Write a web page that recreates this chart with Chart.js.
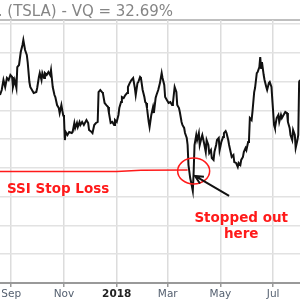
<!DOCTYPE html>
<html>
<head>
<meta charset="utf-8">
<script src="https://cdn.jsdelivr.net/npm/chart.js@4.4.1/dist/chart.umd.min.js"></script>
<style>
  html, body { margin: 0; padding: 0; background: #fff; }
  #wrap { width: 300px; height: 300px; }
</style>
</head>
<body>
<div id="wrap"><canvas id="chart" width="300" height="300"></canvas></div>
<script>
// x values are days counted from 1 Sep 2017
var tickDays = [0, 61, 122, 181, 242, 303];
var tickLabels = ["Sep", "Nov", "2018", "Mar", "May", "Jul"];
var priceTicks = [175, 200, 225, 250, 275, 300, 325, 350, 375, 400];

// TSLA close
var priceDays = [
    -13, -11, -9, -7, -5, -3, -1, 1, 2, 4, 6, 7, 9, 11, 13, 14, 16, 18, 19, 21,
    22, 24, 26, 29, 30, 32, 33, 35, 36, 38, 39, 41, 43, 45, 46, 48, 50, 51, 53, 55,
    56, 58, 60, 61, 62, 63, 65, 67, 70, 71, 73, 74, 76, 77, 79, 80, 82, 84, 87, 89,
    90, 93, 94, 96, 98, 100, 101, 103, 105, 106, 108, 110, 112, 113, 115, 117, 119, 120, 122, 124,
    125, 127, 128, 130, 132, 134, 135, 137, 139, 141, 143, 144, 146, 147, 149, 150, 152, 154, 155, 156,
    157, 159, 160, 162, 164, 165, 167, 168, 170, 172, 174, 175, 177, 178, 180, 182, 184, 186, 187, 189,
    191, 192, 194, 195, 197, 198, 200, 201, 203, 204, 205, 207, 208, 210, 211, 212, 214, 215, 217, 218,
    220, 221, 223, 225, 226, 228, 229, 231, 232, 234, 235, 237, 238, 240, 241, 243, 245, 246, 248, 249,
    251, 252, 254, 255, 257, 258, 260, 262, 263, 265, 266, 268, 269, 271, 272, 274, 275, 276, 278, 279,
    281, 282, 284, 285, 287, 288, 289, 290, 292, 293, 295, 296, 298, 299, 301, 302, 304, 305, 307, 309,
    310, 312, 313, 315, 317, 319, 320, 322, 323, 325, 326, 328, 329, 331, 332, 333, 334
];
var priceValues = [
    338.3, 342.7, 351.4, 345.3, 353.1, 351.4, 355.7, 354.0, 345.3, 351.4, 344.4, 362.6, 364.4, 375.7, 381.8, 386.1, 377.4, 373.1, 367.0, 349.6,
    345.3, 342.7, 340.0, 340.9, 344.4, 354.0, 357.4, 351.4, 357.4, 353.1, 357.4, 355.7, 358.3, 355.7, 360.0, 345.3, 338.3, 336.6, 329.6, 327.0,
    322.7, 329.6, 321.0, 319.2, 299.2, 306.2, 303.6, 306.2, 305.3, 306.2, 314.0, 309.7, 314.0, 310.5, 314.9, 312.3, 314.9, 312.3, 316.6, 314.0,
    307.9, 306.2, 305.3, 312.3, 314.0, 314.9, 340.9, 342.7, 340.9, 340.0, 331.4, 329.6, 327.9, 322.7, 314.0, 314.9, 312.3, 316.6, 314.9, 321.0,
    327.0, 332.2, 336.6, 335.7, 338.3, 340.0, 345.3, 348.7, 351.4, 353.1, 344.4, 338.3, 348.7, 349.6, 354.0, 353.1, 342.7, 336.6, 332.2, 331.4,
    327.0, 314.9, 310.5, 321.0, 327.9, 322.7, 335.7, 338.3, 342.7, 348.7, 357.4, 353.1, 347.0, 336.6, 334.0, 331.4, 332.2, 329.6, 331.4, 345.3,
    340.9, 329.6, 327.0, 323.6, 314.9, 312.3, 309.7, 305.3, 301.0, 294.9, 277.5, 266.2, 262.7, 255.0, 271.4, 294.9, 303.6, 299.2, 305.3, 294.9,
    301.0, 303.6, 296.6, 288.8, 299.2, 294.9, 287.9, 290.5, 283.6, 281.9, 288.8, 294.9, 299.2, 301.0, 290.5, 297.5, 301.8, 305.3, 307.0, 305.3,
    299.2, 294.9, 287.9, 284.5, 286.2, 280.1, 279.3, 275.8, 279.3, 277.5, 281.9, 284.5, 288.8, 292.3, 290.5, 297.5, 299.2, 318.3, 316.6, 323.6,
    340.9, 344.4, 357.4, 358.3, 362.6, 371.3, 361.8, 367.0, 355.7, 351.4, 345.3, 342.7, 348.7, 349.6, 345.3, 334.0, 312.3, 309.7, 318.3, 321.0,
    314.9, 321.0, 318.3, 321.0, 323.6, 322.7, 314.9, 309.7, 303.6, 299.2, 307.9, 303.6, 292.3, 299.2, 303.6, 349.6, 351.4
];

// SSI stop loss level
var stopDays = [-13, 122, 150, 204];
var stopValues = [271.9, 271.9, 273.0, 273.2];

// annotation anchors (day, price)
var stopOutPoint = [211, 272.3];
var arrowFrom = [252, 250.6];
var arrowTo = [212.5, 268];
var stopLabelAt = [-5, 253.2];
var stoppedLabelAt = [266, 228];

var titleText = "Tesla Inc. (TSLA) - VQ = 32.69%";

function toPoints(xs, ys) {
    return xs.map(function (x, i) { return { x: x, y: ys[i] }; });
}

var notes = {
    id: "notes",
    beforeDraw: function (chart) {
        var c = chart.ctx, a = chart.chartArea;
        c.save();
        c.fillStyle = "#858585";
        c.font = "15px 'DejaVu Sans'";
        c.textAlign = "right";
        c.textBaseline = "alphabetic";
        c.fillText(titleText, 173, 15.5);
        c.strokeStyle = "#aaa";
        c.lineWidth = 1.5;
        c.beginPath();
        c.moveTo(0, a.top);
        c.lineTo(chart.width, a.top);
        c.stroke();
        c.restore();
    },
    afterDatasetsDraw: function (chart) {
        var c = chart.ctx, x = chart.scales.x, y = chart.scales.y;
        var px = function (p) { return [x.getPixelForValue(p[0]), y.getPixelForValue(p[1])]; };
        c.save();

        // circle round the stop out
        var o = px(stopOutPoint);
        c.strokeStyle = "#ff1a1a";
        c.lineWidth = 1.5;
        c.beginPath();
        c.ellipse(o[0], o[1], 16, 13, 0, 0, Math.PI * 2);
        c.stroke();

        // arrow
        var f = px(arrowFrom), t = px(arrowTo);
        var ang = Math.atan2(t[1] - f[1], t[0] - f[0]);
        c.strokeStyle = "#111";
        c.lineWidth = 2;
        c.beginPath();
        c.moveTo(f[0], f[1]);
        c.lineTo(t[0], t[1]);
        c.moveTo(t[0] - 9 * Math.cos(ang - 0.45), t[1] - 9 * Math.sin(ang - 0.45));
        c.lineTo(t[0], t[1]);
        c.lineTo(t[0] - 9 * Math.cos(ang + 0.45), t[1] - 9 * Math.sin(ang + 0.45));
        c.stroke();

        // labels
        c.fillStyle = "#ff1a1a";
        c.font = "bold 13.5px 'DejaVu Sans'";
        c.textBaseline = "alphabetic";
        var s = px(stopLabelAt);
        c.textAlign = "left";
        c.fillText("SSI Stop Loss", s[0], s[1]);
        var h = px(stoppedLabelAt);
        c.textAlign = "center";
        c.fillText("Stopped out", h[0], h[1]);
        c.fillText("here", h[0], h[1] + 16);
        c.restore();
    }
};

new Chart(document.getElementById("chart"), {
    type: "line",
    data: {
        datasets: [
            {
                label: "TSLA",
                data: toPoints(priceDays, priceValues),
                borderColor: "#111",
                borderWidth: 2,
                pointRadius: 0,
                tension: 0,
            },
            {
                label: "SSI Stop Loss",
                data: toPoints(stopDays, stopValues),
                borderColor: "#ff1a1a",
                borderWidth: 1.5,
                pointRadius: 0,
                tension: 0,
            },
        ],
    },
    options: {
        responsive: false,
        animation: false,
        events: [],
        layout: { padding: { top: 20, left: 0, right: 0, bottom: 0 } },
        plugins: { legend: { display: false }, tooltip: { enabled: false }, title: { display: false } },
        scales: {
            x: {
                type: "linear",
                min: -13,
                max: 334,
                afterBuildTicks: function (scale) {
                    scale.ticks = tickDays.map(function (d) { return { value: d }; });
                },
                afterFit: function (scale) { scale.height = 17; },
                ticks: {
                    autoSkip: false,
                    maxRotation: 0,
                    padding: 1,
                    callback: function (v) {
                        var i = tickDays.indexOf(v);
                        return i < 0 ? "" : tickLabels[i];
                    },
                    color: function (ctx) { return ctx.index === 2 ? "#222" : "#556070"; },
                    font: function (ctx) {
                        return { family: "'DejaVu Sans'", size: 10.5, weight: ctx.index === 2 ? "bold" : "normal" };
                    },
                },
                grid: { color: "#dcdcdc", lineWidth: 1.5, tickLength: 4, tickColor: "#999" },
                border: { color: "#999", width: 2 },
            },
            y: {
                min: 175,
                max: 403.5,
                afterBuildTicks: function (scale) {
                    scale.ticks = priceTicks.map(function (v) { return { value: v }; });
                },
                afterFit: function (scale) { scale.width = 0; },
                ticks: { display: false },
                grid: { color: "#e2e2e2", lineWidth: 1.5, drawTicks: false },
                border: { display: false },
            },
        },
    },
    plugins: [notes],
});
</script>
</body>
</html>
